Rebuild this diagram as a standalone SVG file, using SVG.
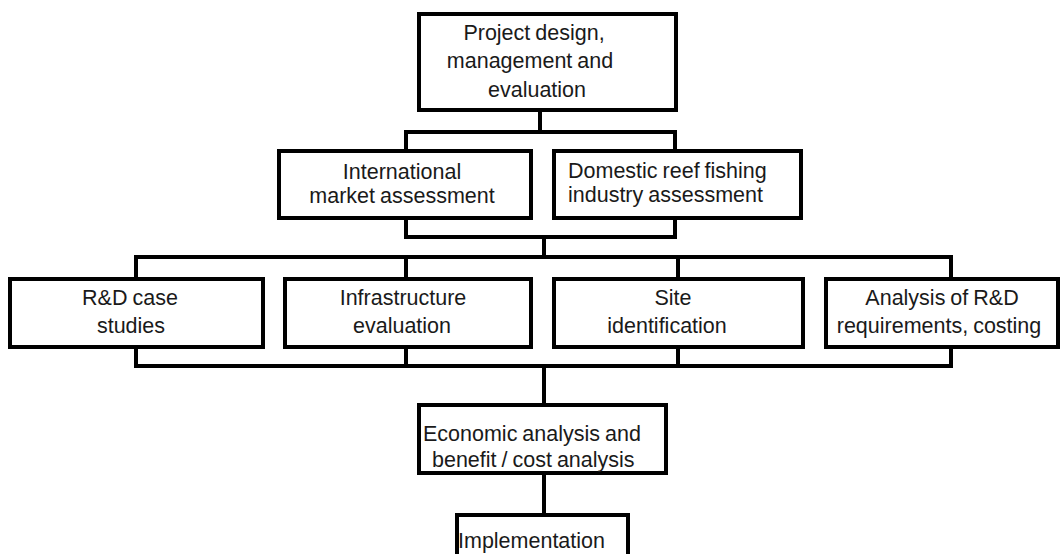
<svg xmlns="http://www.w3.org/2000/svg" width="1063" height="554" viewBox="0 0 1063 554">
<style>
.box{fill:#ffffff;stroke:#000000;stroke-width:4}
.ln{fill:none;stroke:#000000;stroke-width:4}
text{font-family:"Liberation Sans",Arial,sans-serif;font-size:21.5px;fill:#1a1a1a;word-spacing:-1px}
.m{text-anchor:middle}
</style>
<rect width="1063" height="554" fill="#ffffff"/>
<g id="connectors">
<path class="ln" d="M540,112 V132"/>
<path class="ln" d="M406,151 V132 H675 V151"/>
<path class="ln" d="M406,218 V237 H675 V218"/>
<path class="ln" d="M544,237 V257"/>
<path class="ln" d="M136,279 V257 H951 V279"/>
<path class="ln" d="M406,257 V279 M678,257 V279"/>
<path class="ln" d="M136,347 V366 H951 V347"/>
<path class="ln" d="M406,347 V366 M678,347 V366"/>
<path class="ln" d="M544,366 V405"/>
<path class="ln" d="M544,473 V515"/>
</g>
<g id="n-project">
<rect class="box" x="419" y="14" width="257" height="96"/>
<text class="m" x="534" y="40">Project design,</text>
<text class="m" x="530" y="68">management and</text>
<text class="m" x="537" y="97">evaluation</text>
</g>
<g id="n-international">
<rect class="box" x="279" y="151" width="252" height="67"/>
<text class="m" x="402" y="179">International</text>
<text class="m" x="402" y="203">market assessment</text>
</g>
<g id="n-domestic">
<rect class="box" x="554" y="151" width="247" height="67"/>
<text x="568" y="178">Domestic reef fishing</text>
<text x="568" y="202">industry assessment</text>
</g>
<g id="n-rd-case">
<rect class="box" x="10" y="279" width="253" height="68"/>
<text class="m" x="130" y="305">R&amp;D case</text>
<text class="m" x="131" y="333">studies</text>
</g>
<g id="n-infrastructure">
<rect class="box" x="285" y="279" width="246" height="68"/>
<text class="m" x="403" y="305">Infrastructure</text>
<text class="m" x="402" y="333">evaluation</text>
</g>
<g id="n-site">
<rect class="box" x="554" y="279" width="249" height="68"/>
<text class="m" x="673" y="305">Site</text>
<text class="m" x="667" y="333">identification</text>
</g>
<g id="n-analysis">
<rect class="box" x="826" y="279" width="232" height="68"/>
<text class="m" x="942" y="305">Analysis of R&amp;D</text>
<text class="m" x="939" y="333">requirements, costing</text>
</g>
<g id="n-economic">
<rect class="box" x="419" y="405" width="247" height="68"/>
<text x="423" y="441">Economic analysis and</text>
<text x="432" y="467">benefit / cost analysis</text>
</g>
<g id="n-implementation">
<rect class="box" x="457" y="515" width="171" height="60"/>
<text x="458" y="548">Implementation</text>
</g>
</svg>
